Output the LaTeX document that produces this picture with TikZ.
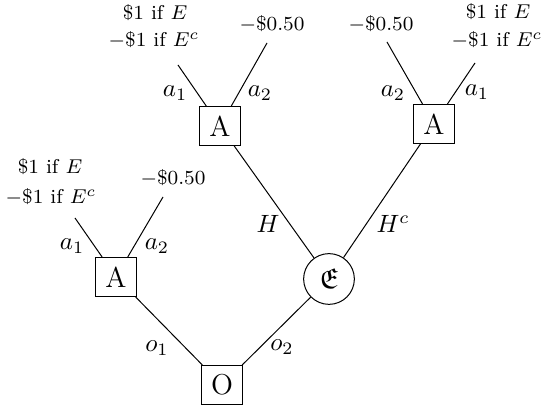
\documentclass[tikz,border=0pt]{standalone}
\usepackage{amssymb}
\begin{document}
\begin{tikzpicture}[x=0.4pt,y=-0.4pt,
  decbox/.style={draw,rectangle,minimum width=16.2pt,minimum height=15.6pt,inner sep=0pt,font=\fontsize{11.5}{13}\selectfont},
  chancenode/.style={draw,circle,minimum size=20.3pt,inner sep=0pt,font=\fontsize{11.5}{13}\selectfont},
  payoff/.style={anchor=base,inner sep=0pt,font=\footnotesize},
  lbl/.style={inner sep=0pt,font=\normalsize},
  branch/.style={line width=0.4pt}]
\useasboundingbox (0,0) rectangle (542,405);
% main nodes
\node[decbox] (O) at (222,385) {O};
\node[chancenode] (C) at (329,279) {$\mathfrak{E}$};
\node[decbox] (AL) at (116,277) {A};
\node[decbox] (ATL) at (220,126) {A};
\node[decbox] (ATR) at (434,124) {A};
% leaf ends
\coordinate (L1) at (75,218);
\coordinate (L2) at (163,197);
\coordinate (TL1) at (178,65);
\coordinate (TL2) at (267,43);
\coordinate (TR2) at (387,42);
\coordinate (TR1) at (475,63);
% connectors
\draw[branch] (O) -- (AL);
\draw[branch] (O) -- (C);
\draw[branch] (C) -- (ATL);
\draw[branch] (C) -- (ATR);
\draw[branch] (AL) -- (L1);
\draw[branch] (AL) -- (L2);
\draw[branch] (ATL) -- (TL1);
\draw[branch] (ATL) -- (TL2);
\draw[branch] (ATR) -- (TR2);
\draw[branch] (ATR) -- (TR1);
% edge labels
\node[lbl] (lo1) at (157,348) {$o_1$};
\node[lbl] (lo2) at (282,347) {$o_2$};
\node[lbl] (lH) at (268,224) {$H$};
\node[lbl] (lHc) at (393,224) {$H^c$};
\node[lbl] (lLa1) at (72,246) {$a_1$};
\node[lbl] (lLa2) at (157,246) {$a_2$};
\node[lbl] (lTLa1) at (175,93) {$a_1$};
\node[lbl] (lTLa2) at (260,93) {$a_2$};
\node[lbl] (lTRa2) at (393,93) {$a_2$};
\node[lbl] (lTRa1) at (477,92) {$a_1$};
% payoffs
\node[payoff] (pTL1) at (155,20) {\$1 if $E$};
\node[payoff] (pTL2) at (154,47) {$-$\$1 if $E^c$};
\node[payoff] (pTL3) at (272,31) {$-$\$0.50};
\node[payoff] (pTR3) at (381,31) {$-$\$0.50};
\node[payoff] (pTR1) at (498,19) {\$1 if $E$};
\node[payoff] (pTR2) at (497,47) {$-$\$1 if $E^c$};
\node[payoff] (pL1) at (50,174) {\$1 if $E$};
\node[payoff] (pL2) at (51,204) {$-$\$1 if $E^c$};
\node[payoff] (pL3) at (173,185) {$-$\$0.50};
\end{tikzpicture}
\end{document}
